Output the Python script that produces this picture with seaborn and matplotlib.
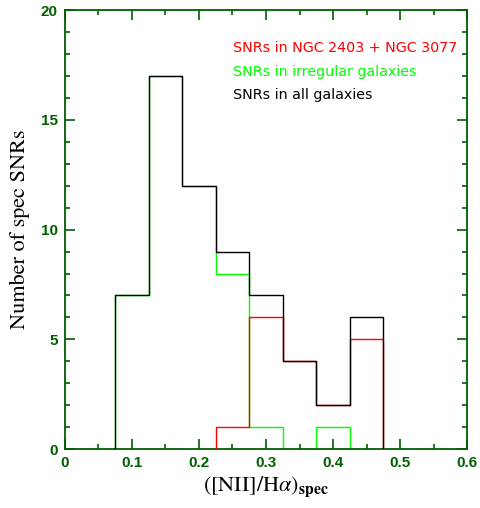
import numpy as np
import pandas as pd
import seaborn as sns
import matplotlib
matplotlib.use("Agg")
import matplotlib.pyplot as plt
from matplotlib.ticker import MultipleLocator

# [NII]/Halpha bin centres (bin width 0.05) and counts per sample
bin_centers = [0.10, 0.15, 0.20, 0.25, 0.30, 0.35, 0.40, 0.45]
all_counts = [7, 17, 12, 9, 7, 4, 2, 6]
irregular_counts = [7, 17, 12, 8, 1, 0, 1, 0]
ngc_counts = [0, 0, 0, 1, 6, 4, 2, 5]
bin_width = 0.05

series_labels = ["SNRs in NGC 2403 + NGC 3077",
                 "SNRs in irregular galaxies",
                 "SNRs in all galaxies"]

x_ticks = [0, 0.1, 0.2, 0.3, 0.4, 0.5, 0.6]
y_ticks = [0, 5, 10, 15, 20]

sns.set_style("ticks")
plt.rcParams["mathtext.fontset"] = "stix"
axis_green = "#005f00"

fig = plt.figure(figsize=(4.81, 5.08), dpi=100)
ax = fig.add_axes([0.135, 0.116, 0.836, 0.864])


def outline(counts):
    """Histogram outline (closed down to zero at both ends) as a DataFrame."""
    nz = [i for i, c in enumerate(counts) if c > 0]
    sub_c = list(counts[nz[0]:nz[-1] + 1])
    sub_x = bin_centers[nz[0]:nz[-1] + 1]
    edges = [x - bin_width / 2 for x in sub_x] + [sub_x[-1] + bin_width / 2]
    xs = [edges[0]] + edges
    ys = [0] + sub_c + [0]
    return pd.DataFrame({"ratio": xs, "n": ys})


def draw(counts, color, zorder):
    sns.lineplot(data=outline(counts), x="ratio", y="n", estimator=None,
                 sort=False, drawstyle="steps-post", color=color,
                 linewidth=1.0, ax=ax, zorder=zorder)


draw(irregular_counts, "#00ff00", 2)
draw(ngc_counts, "#ff0000", 3)
draw(all_counts, "#000000", 4)

ax.set_xlim(0, 0.6)
ax.set_ylim(0, 20)
ax.set_xticks(x_ticks)
ax.set_xticklabels([f"{t:g}" for t in x_ticks])
ax.set_yticks(y_ticks)
ax.set_yticklabels([str(t) for t in y_ticks])
ax.xaxis.set_minor_locator(MultipleLocator(0.05))
ax.yaxis.set_minor_locator(MultipleLocator(1))
ax.tick_params(which="both", direction="in", top=True, right=True,
               color=axis_green, labelcolor=axis_green, width=1.2)
ax.tick_params(which="major", length=7, pad=5)
ax.tick_params(which="minor", length=3.5)
for lab in ax.get_xticklabels() + ax.get_yticklabels():
    lab.set_fontfamily("Liberation Sans")
    lab.set_fontweight("bold")
    lab.set_fontsize(11)
for s in ax.spines.values():
    s.set_color(axis_green)
    s.set_linewidth(1.3)

ax.set_xlabel(r"$([\mathrm{NII}]/\mathrm{H}\alpha)_{\mathbf{spec}}$",
              fontsize=16, color="black", labelpad=3)
ax.set_ylabel("Number of spec SNRs", fontsize=16, family="STIXGeneral",
              color="black", labelpad=8)

for i, (txt, col) in enumerate(zip(series_labels, ["#ff0000", "#00ff00", "#000000"])):
    ax.text(0.418, 0.913 - i * 0.0535, txt, transform=ax.transAxes,
            color=col, fontsize=10.3, family="DejaVu Sans", va="center")

fig.savefig("out.png", dpi=100)
